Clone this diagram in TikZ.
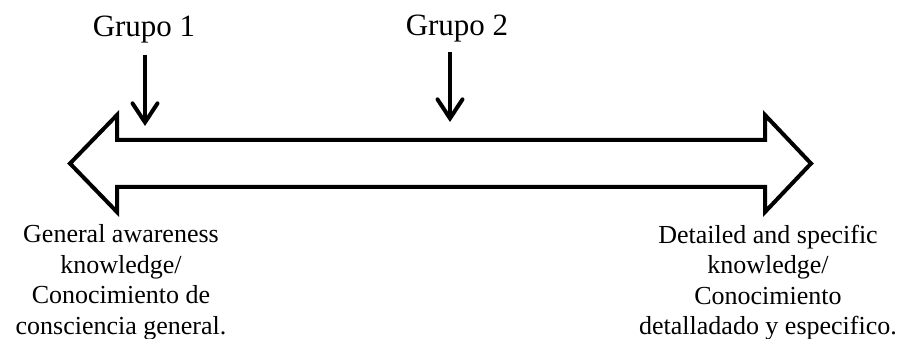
\documentclass[tikz,border=0pt]{standalone}
\usepackage{fontspec}
\setmainfont{Liberation Serif}
\usetikzlibrary{arrows.meta}
\begin{document}
\begin{tikzpicture}[x=1pt,y=-1pt,
  bigarrow/.style={draw=black,line width=4pt,miter limit=10,fill=white},
  pointer/.style={line width=4pt,-{Straight Barb[length=19pt,width=25pt,line cap=round,line join=miter]}},
  grp/.style={font=\fontsize{31}{36}\selectfont,inner sep=0pt,anchor=base},
  desc/.style={font=\fontsize{26}{30.5}\selectfont,inner sep=0pt,anchor=north,align=center}]
\useasboundingbox (0,0) rectangle (902,339);
% double-headed block arrow
\draw[bigarrow] (70,163.5) -- (117,115) -- (117,140) -- (765,140) -- (765,115)
  -- (811,163.5) -- (765,212) -- (765,187) -- (117,187) -- (117,212) -- cycle;
% labels
\node[grp] (g1) at (144,36.5) {Grupo 1};
\node[grp] (g2) at (457,36) {Grupo 2};
\coordinate (s1) at (145,55);
\coordinate (t1) at (145,126);
\coordinate (s2) at (450,52);
\coordinate (t2) at (450,122);
\draw[pointer] (s1) -- (t1);
\draw[pointer] (s2) -- (t2);
\node[desc] (left) at (121,224.5) {General awareness\\knowledge/\\Conocimiento de\\consciencia general.};
\node[desc] (right) at (768,224.5) {Detailed and specific\\knowledge/\\Conocimiento\\detalladado y especifico.};
\end{tikzpicture}
\end{document}
